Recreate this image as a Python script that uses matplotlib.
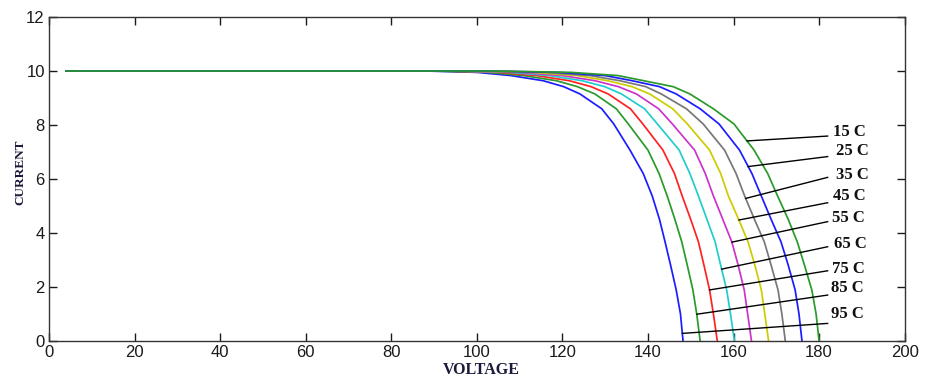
import numpy as np
import matplotlib
matplotlib.use("Agg")
import matplotlib.pyplot as plt

# ---------------- data ----------------
temperatures = ["15 C", "25 C", "35 C", "45 C", "55 C", "65 C", "75 C", "85 C", "95 C"]

# current levels (A) at which the voltage of each curve was read
current_levels = [10, 10, 9.95, 9.83, 9.64, 9.42, 9.15, 8.6, 8.04, 7.07, 6.2,
                  5.37, 4.5, 3.67, 2.8, 1.89, 1.0, 0]

voltage_15C = [4, 104, 122.0, 133.0, 139.0, 145.9, 149.8, 155.3, 160.1, 164.8, 168.0,
               170.3, 172.8, 174.9, 176.6, 178.3, 179.3, 180.0]
voltage_25C = [4, 102, 119.0, 130.0, 136.3, 142.7, 146.6, 152.2, 156.6, 161.4, 164.3,
               166.5, 168.8, 171.1, 172.8, 174.4, 175.3, 176.0]
voltage_35C = [4, 100, 116.0, 126.5, 133.4, 139.5, 143.1, 149.0, 152.9, 157.9, 160.6,
               162.6, 164.9, 167.2, 168.8, 170.4, 171.3, 172.1]
voltage_45C = [4, 98, 113.0, 123.5, 130.6, 136.3, 140.4, 145.8, 149.2, 154.4, 157.0,
               158.8, 161.2, 163.4, 165.0, 166.5, 167.3, 168.2]
voltage_55C = [4, 96, 110.0, 120.0, 127.6, 133.1, 137.3, 142.5, 145.7, 150.9, 153.4,
               155.3, 157.5, 159.6, 161.1, 162.5, 163.3, 164.2]
voltage_65C = [4, 94, 107.5, 117.0, 124.6, 129.9, 133.8, 139.2, 142.2, 147.3, 149.8,
               151.8, 153.8, 155.7, 157.0, 158.4, 159.3, 160.2]
voltage_75C = [4, 92, 105.0, 114.0, 121.6, 126.7, 130.7, 135.9, 138.8, 143.5, 146.2,
               148.0, 150.0, 151.8, 153.1, 154.4, 155.3, 156.2]
voltage_85C = [4, 90, 102.5, 111.0, 118.6, 123.5, 127.6, 132.6, 135.4, 140.0, 142.6,
               144.5, 146.3, 147.9, 149.2, 150.5, 151.4, 152.2]
voltage_95C = [4, 88, 100.0, 108.0, 115.5, 120.3, 124.1, 129.2, 132.0, 135.8, 138.9,
               141.0, 142.7, 144.0, 145.3, 146.6, 147.6, 148.2]

# current at which each label's leader line touches its curve, and label placement
label_anchor_current = [7.41, 6.46, 5.28, 4.48, 3.66, 2.66, 1.89, 0.99, 0.28]
label_line_end_current = [7.59, 6.83, 6.06, 5.12, 4.42, 3.49, 2.60, 1.70, 0.65]
label_text_current = [7.75, 7.05, 6.15, 5.37, 4.57, 3.59, 2.67, 1.96, 0.99]
label_text_voltage = [183.3, 183.9, 183.9, 183.3, 183.0, 183.6, 183.0, 182.7, 182.7]

x_ticks = [0, 20, 40, 60, 80, 100, 120, 140, 160, 180, 200]
y_ticks = [0, 2, 4, 6, 8, 10, 12]

# ---------------- styling ----------------
curve_voltages = [voltage_15C, voltage_25C, voltage_35C, voltage_45C, voltage_55C,
                  voltage_65C, voltage_75C, voltage_85C, voltage_95C]
curve_colors = ["#2a9a2a", "#1c1cff", "#777777", "#cccc00", "#cc33cc",
                "#22cccc", "#ff2222", "#2a9a2a", "#1c1cff"]
line_end_voltage = 182.0

fig = plt.figure(figsize=(9.25, 3.78), dpi=100)
ax = fig.add_axes([0.053, 0.098, 0.925, 0.857])

# draw hottest first so the 15 C curve sits on top of the flat part
for volts, col in reversed(list(zip(curve_voltages, curve_colors))):
    ax.plot(volts, current_levels, color=col, lw=1.25)

for i, name in enumerate(temperatures):
    volts = curve_voltages[i]
    v_anchor = np.interp(label_anchor_current[i], current_levels[::-1], volts[::-1])
    ax.plot([v_anchor, line_end_voltage], [label_anchor_current[i], label_line_end_current[i]],
            color="black", lw=1.0)
    ax.text(label_text_voltage[i], label_text_current[i], name, ha="left", va="center",
            fontsize=12, fontweight="bold", family="Liberation Serif", color="#111111")

ax.set_xlim(0, 200)
ax.set_ylim(0, 12)
ax.set_xticks(x_ticks)
ax.set_yticks(y_ticks)
ax.tick_params(direction="in", length=6, width=1, top=True, right=True,
               labelsize=12, colors="#1a1a1a", pad=3)
for lab in ax.get_xticklabels() + ax.get_yticklabels():
    lab.set_family("Liberation Sans")
for sp in ax.spines.values():
    sp.set_color("#333333")
    sp.set_linewidth(1.0)

ax.set_xlabel("VOLTAGE", family="Liberation Serif", fontweight="bold", fontsize=11.5,
              color="#1a1a3a")
ax.xaxis.set_label_coords(0.505, -0.066)
ax.set_ylabel("CURRENT", family="Liberation Serif", fontweight="bold", fontsize=9.5,
              color="#1a1a3a")
ax.yaxis.set_label_coords(-0.027, 0.52)

fig.savefig("out.png", dpi=100)
